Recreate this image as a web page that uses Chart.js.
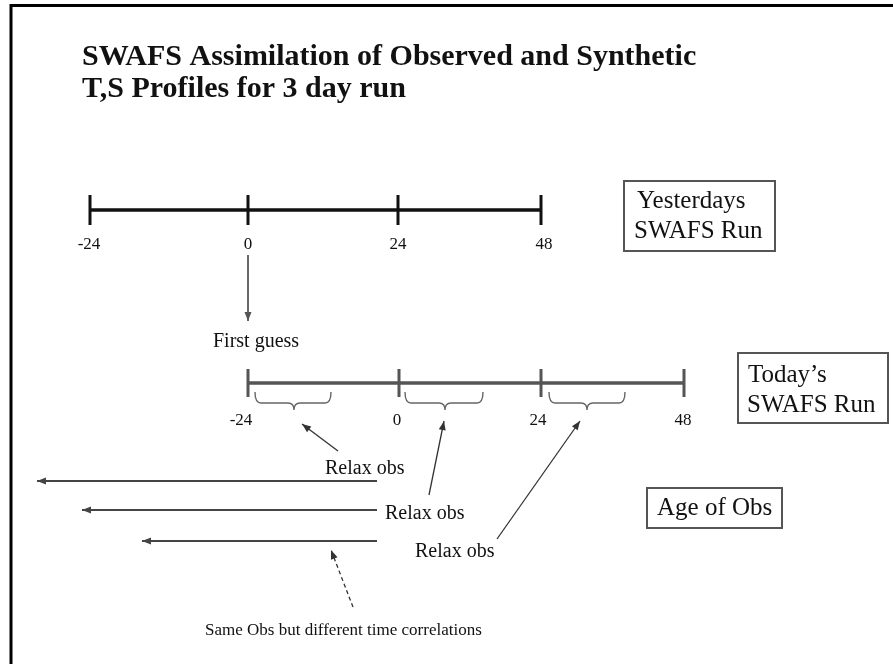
<!DOCTYPE html>
<html>
<head>
<meta charset="utf-8">
<script src="https://cdn.jsdelivr.net/npm/chart.js@4.4.0/dist/chart.umd.min.js"></script>
<style>
html, body { margin: 0; padding: 0; background: #fff; }
</style>
</head>
<body>
<canvas id="myChart" width="893" height="664"></canvas>
<script>
// diagram is laid out in page units: x 0..893, y 0..664 (top down)
const titleLines = ['SWAFS Assimilation of Observed and Synthetic', 'T,S Profiles for 3 day run']

// yesterday's run (black timeline)
const yesterdayLabels = ['-24', '0', '24', '48']
const yesterdayTickX = [90, 248, 398, 541]
const yesterdayLabelX = [89, 248, 398, 544]
const yesterdayY = 210

// today's run (grey timeline), shifted one day
const todayLabels = ['-24', '0', '24', '48']
const todayTickX = [248, 399, 541, 684]
const todayLabelX = [241, 397, 538, 683]
const todayY = 383

// braces under today's run
const braceStartX = [255, 405, 549]
const braceEndX = [331, 483, 625]
const braceTipX = [294, 445, 587]

// "Relax obs" arrows
const relaxFrom = [[338, 451], [429, 495], [497, 539]]
const relaxTo = [[302, 424], [444, 421], [580, 421]]
const relaxTextX = [325, 385, 415]
const relaxTextY = [474, 519, 557]

// age of obs arrows
const ageFromX = 377
const ageToX = [37, 82, 142]
const ageY = [481, 510, 541]

const firstGuessArrow = [[248, 255], [248, 321]]
const dashedArrow = [[353, 607], [331, 550]]

const boxes = [
    { lines: ['Yesterdays', 'SWAFS Run'], x: 624, y: 181, w: 151, h: 70, tx: [637, 634], ty: [208, 238] },
    { lines: ['Today\u2019s', 'SWAFS Run'], x: 738, y: 353, w: 150, h: 70, tx: [748, 747], ty: [382, 412] },
    { lines: ['Age of Obs'], x: 647, y: 488, w: 135, h: 40, tx: [657], ty: [515] }
]

const SERIF = "'Liberation Serif', 'Times New Roman', serif"

function tickData(xs, y, half) {
    const pts = []
    xs.forEach(x => {
        pts.push({ x: x, y: y - half }, { x: x, y: y + half }, { x: x, y: null })
    })
    return pts
}

const datasets = [
    { data: [{ x: yesterdayTickX[0], y: yesterdayY }, { x: yesterdayTickX[3], y: yesterdayY }], borderColor: '#111', borderWidth: 3.5 },
    { data: tickData(yesterdayTickX, yesterdayY, 15), borderColor: '#111', borderWidth: 3 },
    { data: [{ x: todayTickX[0], y: todayY }, { x: todayTickX[3], y: todayY }], borderColor: '#555', borderWidth: 3.5 },
    { data: tickData(todayTickX, todayY, 14), borderColor: '#555', borderWidth: 3 },
    { data: firstGuessArrow.map(p => ({ x: p[0], y: p[1] })), borderColor: '#555', borderWidth: 1, arrowHead: true },
    { data: dashedArrow.map(p => ({ x: p[0], y: p[1] })), borderColor: '#333', borderWidth: 1.3, borderDash: [4, 3], arrowHead: true }
]
for (let i = 0; i < relaxFrom.length; i++) {
    datasets.push({
        data: [{ x: relaxFrom[i][0], y: relaxFrom[i][1] }, { x: relaxTo[i][0], y: relaxTo[i][1] }],
        borderColor: '#333', borderWidth: 1.3, arrowHead: true
    })
}
for (let i = 0; i < ageToX.length; i++) {
    datasets.push({
        data: [{ x: ageFromX, y: ageY[i] }, { x: ageToX[i], y: ageY[i] }],
        borderColor: '#444', borderWidth: 1.8, arrowHead: true
    })
}
datasets.forEach(d => {
    d.showLine = true
    d.pointRadius = 0
    d.spanGaps = false
    d.fill = false
})

const arrowPlugin = {
    id: 'arrows',
    afterDatasetsDraw(chart) {
        const ctx = chart.ctx
        chart.data.datasets.forEach((ds, i) => {
            if (!ds.arrowHead) return
            const pts = chart.getDatasetMeta(i).data
            const a = pts[pts.length - 2], b = pts[pts.length - 1]
            const ang = Math.atan2(b.y - a.y, b.x - a.x)
            const len = 9, w = 3.5
            ctx.save()
            ctx.fillStyle = ds.borderColor
            ctx.translate(b.x, b.y)
            ctx.rotate(ang)
            ctx.beginPath()
            ctx.moveTo(0, 0)
            ctx.lineTo(-len, -w)
            ctx.lineTo(-len, w)
            ctx.closePath()
            ctx.fill()
            ctx.restore()
        })
    }
}

const decorPlugin = {
    id: 'decor',
    afterDraw(chart) {
        const ctx = chart.ctx
        const px = v => chart.scales.x.getPixelForValue(v)
        const py = v => chart.scales.y.getPixelForValue(v)
        ctx.save()

        // frame (left and top edges)
        ctx.strokeStyle = '#000'
        ctx.lineWidth = 3
        ctx.beginPath()
        ctx.moveTo(px(11), py(664))
        ctx.lineTo(px(11), py(5.5))
        ctx.lineTo(px(893), py(5.5))
        ctx.stroke()

        // title
        ctx.fillStyle = '#111'
        ctx.textBaseline = 'alphabetic'
        ctx.textAlign = 'left'
        ctx.font = 'bold 30px ' + SERIF
        ctx.fillText(titleLines[0], px(82), py(65), 618)
        ctx.fillText(titleLines[1], px(82), py(97), 326)

        // tick labels
        ctx.font = '17px ' + SERIF
        ctx.textAlign = 'center'
        yesterdayLabels.forEach((t, i) => ctx.fillText(t, px(yesterdayLabelX[i]), py(249)))
        todayLabels.forEach((t, i) => ctx.fillText(t, px(todayLabelX[i]), py(425)))

        // braces
        ctx.strokeStyle = '#666'
        ctx.lineWidth = 1.4
        const top = 392, bot = 403, tip = 410, r = 6
        for (let i = 0; i < braceStartX.length; i++) {
            const x1 = braceStartX[i], x2 = braceEndX[i], c = braceTipX[i]
            ctx.beginPath()
            ctx.moveTo(px(x1), py(top))
            ctx.quadraticCurveTo(px(x1), py(bot), px(x1 + r), py(bot))
            ctx.lineTo(px(c - r), py(bot))
            ctx.quadraticCurveTo(px(c), py(bot), px(c), py(tip))
            ctx.quadraticCurveTo(px(c), py(bot), px(c + r), py(bot))
            ctx.lineTo(px(x2 - r), py(bot))
            ctx.quadraticCurveTo(px(x2), py(bot), px(x2), py(top))
            ctx.stroke()
        }

        // labels
        ctx.textAlign = 'left'
        ctx.fillStyle = '#111'
        ctx.font = '20px ' + SERIF
        ctx.fillText('First guess', px(213), py(347))
        relaxTextX.forEach((x, i) => ctx.fillText('Relax obs', px(x), py(relaxTextY[i])))
        ctx.font = '17px ' + SERIF
        ctx.fillText('Same Obs but different time correlations', px(205), py(635))

        // boxes
        ctx.font = '25px ' + SERIF
        boxes.forEach(b => {
            ctx.strokeStyle = '#555'
            ctx.lineWidth = 2
            ctx.strokeRect(px(b.x), py(b.y), px(b.x + b.w) - px(b.x), py(b.y + b.h) - py(b.y))
            b.lines.forEach((l, i) => ctx.fillText(l, px(b.tx[i]), py(b.ty[i])))
        })
        ctx.restore()
    }
}

const config = {
    type: 'scatter',
    data: { datasets: datasets },
    options: {
        responsive: false,
        animation: false,
        layout: { padding: 0 },
        scales: {
            x: { type: 'linear', min: 0, max: 893, display: false },
            y: { type: 'linear', min: 0, max: 664, reverse: true, display: false }
        },
        plugins: {
            legend: { display: false },
            tooltip: { enabled: false }
        }
    },
    plugins: [arrowPlugin, decorPlugin]
}

const ctx = document.getElementById('myChart').getContext('2d')
new Chart(ctx, config)
</script>
</body>
</html>
